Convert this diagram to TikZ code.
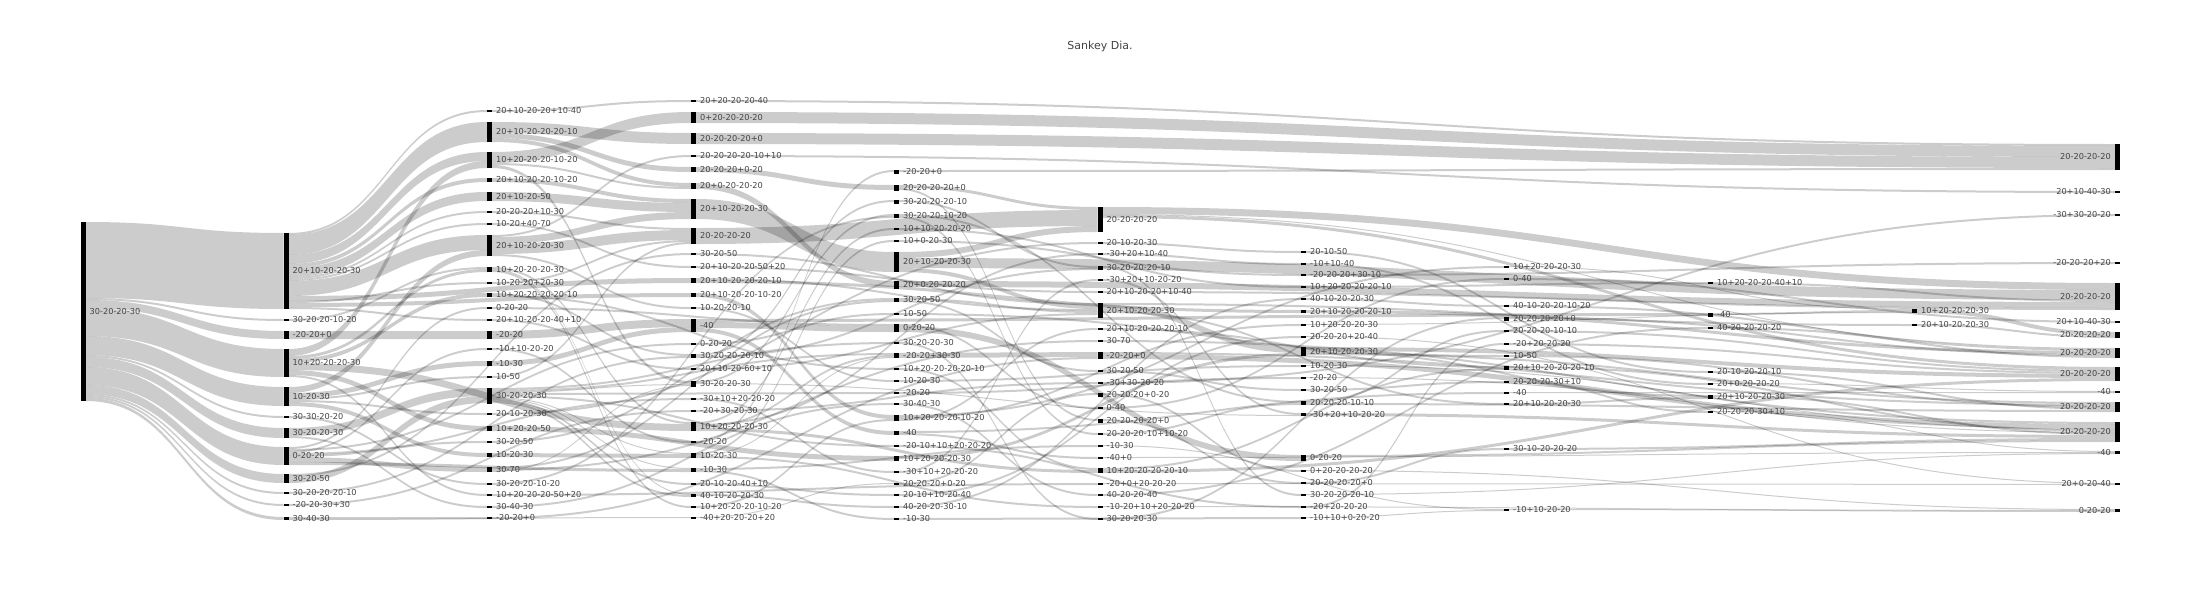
\documentclass[tikz,border=0pt]{standalone}
\usepackage{fontspec}
\newfontfamily\skf{DejaVu Sans}
\usetikzlibrary{calc}
\pgfdeclarelayer{bg}
\pgfsetlayers{bg,main}
\definecolor{lbltext}{HTML}{444444}
\tikzset{
  nd/.style={fill=black,draw=none,minimum width=5pt,inner sep=0pt,outer sep=0pt},
  lbl/.style={font=\skf\fontsize{8.2}{9}\selectfont,text=lbltext,inner sep=0pt,xshift=4pt},
  lblL/.style={font=\skf\fontsize{8.2}{9}\selectfont,text=lbltext,inner sep=0pt,xshift=-4pt},
  lkf/.style={fill=black,fill opacity=0.2,draw=none}
}
\newcommand\sknode[5]{\node[nd,minimum height=#4pt,anchor=north west,label={[lbl]east:#5}] (#1) at (#2,#3) {};}
\newcommand\sknodeL[5]{\node[nd,minimum height=#4pt,anchor=north west,label={[lblL]west:#5}] (#1) at (#2,#3) {};}
\newcommand\sklink[3]{%
 \ifcsname o@#1\endcsname\else\expandafter\xdef\csname o@#1\endcsname{0}\fi
 \ifcsname i@#2\endcsname\else\expandafter\xdef\csname i@#2\endcsname{0}\fi
 \edef\lkso{\csname o@#1\endcsname}%
 \edef\lkti{\csname i@#2\endcsname}%
 \path (#1.north east) ++(0,\lkso) coordinate (lkp) ++(0,#3) coordinate (lkpb)
       (#2.north west) ++(0,\lkti) coordinate (lkq) ++(0,#3) coordinate (lkqb)
       ($(lkp)!0.5!(lkq)$) coordinate (lkm);
 \fill[lkf] (lkp) .. controls (lkm |- lkp) and (lkm |- lkq) .. (lkq) -- (lkqb) .. controls (lkm |- lkqb) and (lkm |- lkpb) .. (lkpb) -- cycle;
 \pgfmathsetmacro\lktmp{\lkso+#3}\expandafter\xdef\csname o@#1\endcsname{\lktmp}%
 \pgfmathsetmacro\lktmp{\lkti+#3}\expandafter\xdef\csname i@#2\endcsname{\lktmp}%
}
\begin{document}
\begin{tikzpicture}[x=1pt,y=-1pt]
\useasboundingbox (0,0) rectangle (2200,600);
\node[font=\skf\fontsize{11}{13}\selectfont,text=lbltext] (title) at (1100,46) {Sankey Dia.};
% column 0
\sknode{A0}{80.5}{222}{179}{30-20-20-30}
% column 1
\sknode{B1}{283.5}{233}{76}{20+10-20-20-30}
\sknode{B2}{283.5}{319}{2}{30-20-20-10-20}
\sknode{B3}{283.5}{331}{8}{-20-20+0}
\sknode{B4}{283.5}{349}{28}{10+20-20-20-30}
\sknode{B5}{283.5}{387}{19}{10-20-30}
\sknode{B6}{283.5}{416}{2}{30-30-20-20}
\sknode{B7}{283.5}{428}{10}{30-20-20-30}
\sknode{B8}{283.5}{447}{18}{0-20-20}
\sknode{B9}{283.5}{474}{9}{30-20-50}
\sknode{B10}{283.5}{492}{2}{30-20-20-20-10}
\sknode{B11}{283.5}{504}{2}{-20-20-30+30}
\sknode{B12}{283.5}{517}{3}{30-40-30}
% column 2
\sknode{C1}{487}{110}{2}{20+10-20-20+10-40}
\sknode{C2}{487}{122}{20}{20+10-20-20-20-10}
\sknode{C3}{487}{152}{16}{10+20-20-20-10-20}
\sknode{C4}{487}{178}{4}{20+10-20-20-10-20}
\sknode{C5}{487}{192}{9}{20+10-20-50}
\sknode{C6}{487}{211}{2}{20-20-20+10-30}
\sknode{C7}{487}{223}{2}{10-20+40-70}
\sknode{C8}{487}{235}{21}{20+10-20-20-30}
\sknode{C9}{487}{267}{5}{10+20-20-20-30}
\sknode{C10}{487}{282}{2}{10-20-20+20-30}
\sknode{C11}{487}{293}{4}{10+20-20-20-20-10}
\sknode{C12}{487}{307}{2}{0-20-20}
\sknode{C13}{487}{319}{2}{20+10-20-20-40+10}
\sknode{C14}{487}{331}{8}{-20-20}
\sknode{C15}{487}{348}{2}{-10+10-20-20}
\sknode{C16}{487}{361}{5}{-10-30}
\sknode{C17}{487}{376}{2}{10-50}
\sknode{C18}{487}{388}{16}{30-20-20-30}
\sknode{C19}{487}{413}{2}{20-10-20-30}
\sknode{C20}{487}{426}{5}{10+20-20-50}
\sknode{C21}{487}{441}{2}{30-20-50}
\sknode{C22}{487}{453}{4}{10-20-30}
\sknode{C23}{487}{467}{5}{30-70}
\sknode{C24}{487}{483}{2}{30-20-20-10-20}
\sknode{C25}{487}{494}{2}{10+20-20-20-50+20}
\sknode{C26}{487}{506}{2}{30-40-30}
\sknode{C27}{487}{517}{2}{-20-20+0}
% column 3
\sknode{D1}{691}{100}{2}{20+20-20-20-40}
\sknode{D2}{691}{112}{11}{0+20-20-20-20}
\sknode{D3}{691}{133}{11}{20-20-20-20+0}
\sknode{D4}{691}{155}{2}{20-20-20-20-10+10}
\sknode{D5}{691}{167}{5}{20-20-20+0-20}
\sknode{D6}{691}{183}{6}{20+0-20-20-20}
\sknode{D7}{691}{199}{20}{20+10-20-20-30}
\sknode{D8}{691}{228}{16}{20-20-20-20}
\sknode{D9}{691}{253}{2}{30-20-50}
\sknode{D10}{691}{266}{2}{20+10-20-20-50+20}
\sknode{D11}{691}{278}{5}{20+10-20-20-20-10}
\sknode{D12}{691}{293}{4}{20+10-20-20-10-20}
\sknode{D13}{691}{307}{2}{10-20-20-10}
\sknode{D14}{691}{319}{13}{-40}
\sknode{D15}{691}{343}{2}{0-20-20}
\sknode{D16}{691}{354}{4}{30-20-20-20-10}
\sknode{D17}{691}{368}{2}{20+10-20-60+10}
\sknode{D18}{691}{381}{6}{30-20-20-30}
\sknode{D19}{691}{398}{2}{-30+10+20-20-20}
\sknode{D20}{691}{410}{2}{-20+30-20-30}
\sknode{D21}{691}{422}{9}{10+20-20-20-30}
\sknode{D22}{691}{441}{2}{-20-20}
\sknode{D23}{691}{453}{5}{10-20-30}
\sknode{D24}{691}{468}{4}{-10-30}
\sknode{D25}{691}{483}{2}{20-10-20-40+10}
\sknode{D26}{691}{494}{3}{40-10-20-20-30}
\sknode{D27}{691}{506}{2}{10+20-20-20-10-20}
\sknode{D28}{691}{517}{2}{-40+20-20-20+20}
% column 4
\sknode{E1}{894}{170}{4}{-20-20+0}
\sknode{E2}{894}{185}{6}{20-20-20-20+0}
\sknode{E3}{894}{200}{4}{30-20-20-20-10}
\sknode{E4}{894}{214}{4}{30-20-20-10-20}
\sknode{E5}{894}{228}{2}{10+10-20-20-20}
\sknode{E6}{894}{240}{2}{10+0-20-30}
\sknode{E7}{894}{252}{20}{20+10-20-20-30}
\sknode{E8}{894}{281}{8}{20+0-20-20-20}
\sknode{E9}{894}{298}{4}{30-20-50}
\sknode{E10}{894}{313}{2}{10-50}
\sknode{E11}{894}{324}{8}{0-20-20}
\sknode{E12}{894}{342}{2}{30-20-20-30}
\sknode{E13}{894}{353}{5}{-20-20+30-30}
\sknode{E14}{894}{368}{2}{10+20-20-20-20-10}
\sknode{E15}{894}{380}{2}{10-20-30}
\sknode{E16}{894}{392}{2}{-20-20}
\sknode{E17}{894}{403}{2}{30-40-30}
\sknode{E18}{894}{415}{6}{10+20-20-20-10-20}
\sknode{E19}{894}{431}{4}{-40}
\sknode{E20}{894}{445}{2}{-20-10+10+20-20-20}
\sknode{E21}{894}{456}{5}{10+20-20-20-30}
\sknode{E22}{894}{471}{2}{-30+10+20-20-20}
\sknode{E23}{894}{483}{2}{20-20-20+0-20}
\sknode{E24}{894}{494}{2}{20-10+10-20-40}
\sknode{E25}{894}{506}{2}{40-20-20-30-10}
\sknode{E26}{894}{518}{2}{-10-30}
% column 5
\sknode{F1}{1097.5}{207}{25}{20-20-20-20}
\sknode{F2}{1097.5}{242}{2}{20-10-20-30}
\sknode{F3}{1097.5}{253}{2}{-30+20+10-40}
\sknode{F4}{1097.5}{266}{4}{30-20-20-20-10}
\sknode{F5}{1097.5}{279}{2}{-30+20+10-20-20}
\sknode{F6}{1097.5}{291}{2}{20+10-20-20+10-40}
\sknode{F7}{1097.5}{303}{15}{20+10-20-20-30}
\sknode{F8}{1097.5}{328}{2}{20+10-20-20-20-10}
\sknode{F9}{1097.5}{340}{2}{30-70}
\sknode{F10}{1097.5}{352}{7}{-20-20+0}
\sknode{F11}{1097.5}{370}{2}{30-20-50}
\sknode{F12}{1097.5}{382}{2}{-30+30-20-20}
\sknode{F13}{1097.5}{393}{4}{20-20-20+0-20}
\sknode{F14}{1097.5}{407}{2}{0-40}
\sknode{F15}{1097.5}{419}{4}{20-20-20-20+0}
\sknode{F16}{1097.5}{433}{2}{20-20-20-10+10-20}
\sknode{F17}{1097.5}{445}{2}{-10-30}
\sknode{F18}{1097.5}{457}{2}{-40+0}
\sknode{F19}{1097.5}{468}{5}{10+20-20-20-20-10}
\sknode{F20}{1097.5}{483}{2}{-20+0+20-20-20}
\sknode{F21}{1097.5}{494}{2}{40-20-20-40}
\sknode{F22}{1097.5}{506}{2}{-10-20+10+20-20-20}
\sknode{F23}{1097.5}{518}{2}{30-20-20-30}
% column 6
\sknode{G1}{1301}{251}{2}{20-10-50}
\sknode{G2}{1301}{263}{2}{-10+10-40}
\sknode{G3}{1301}{274}{2}{-20-20-20+30-10}
\sknode{G4}{1301}{286}{2}{10+20-20-20-20-10}
\sknode{G5}{1301}{298}{2}{40-10-20-20-30}
\sknode{G6}{1301}{310}{3}{20+10-20-20-20-10}
\sknode{G7}{1301}{324}{2}{10+20-20-20-30}
\sknode{G8}{1301}{336}{2}{20-20-20+20-40}
\sknode{G9}{1301}{347}{9}{20+10-20-20-30}
\sknode{G10}{1301}{365}{2}{10-20-30}
\sknode{G11}{1301}{377}{2}{-20-20}
\sknode{G12}{1301}{389}{2}{30-20-50}
\sknode{G13}{1301}{401}{4}{20-20-20-10-10}
\sknode{G14}{1301}{413}{3}{-30+20+10-20-20}
\sknode{G15}{1301}{455}{6}{0-20-20}
\sknode{G16}{1301}{470}{2}{0+20-20-20-20}
\sknode{G17}{1301}{482}{2}{20-20-20-20+0}
\sknode{G18}{1301}{494}{2}{30-20-20-20-10}
\sknode{G19}{1301}{506}{2}{-20+20-20-20}
\sknode{G20}{1301}{517}{2}{-10+10+0-20-20}
% column 7
\sknode{H1}{1504}{266}{2}{10+20-20-20-30}
\sknode{H2}{1504}{278}{2}{0-40}
\sknode{H3}{1504}{305}{2}{40-10-20-20-10-20}
\sknode{H4}{1504}{317}{4}{20-20-20-20+0}
\sknode{H5}{1504}{330}{2}{20-20-20-10-10}
\sknode{H6}{1504}{343}{2}{-20+20-20-20}
\sknode{H7}{1504}{355}{2}{10-50}
\sknode{H8}{1504}{366}{4}{20+10-20-20-20-10}
\sknode{H9}{1504}{381}{2}{20-20-20-30+10}
\sknode{H10}{1504}{392}{2}{-40}
\sknode{H11}{1504}{403}{2}{20+10-20-20-30}
\sknode{H12}{1504}{448}{2}{30-10-20-20-20}
\sknode{H13}{1504}{509}{2}{-10+10-20-20}
% column 8
\sknode{I1}{1708}{282}{2}{10+20-20-20-40+10}
\sknode{I2}{1708}{313}{4}{-40}
\sknode{I3}{1708}{327}{2}{40-20-20-20-20}
\sknode{I4}{1708}{371}{2}{20-10-20-20-10}
\sknode{I5}{1708}{383}{2}{20+0-20-20-20}
\sknode{I6}{1708}{395}{4}{20+10-20-20-30}
\sknode{I7}{1708}{411}{2}{20-20-20-30+10}
% column 9
\sknode{J1}{1912}{309}{4}{10+20-20-20-30}
\sknode{J2}{1912}{324}{2}{20+10-20-20-30}
% column 10
\sknodeL{K1}{2115}{144}{26}{20-20-20-20}
\sknodeL{K2}{2115}{191}{2}{20+10-40-30}
\sknodeL{K3}{2115}{214}{2}{-30+30-20-20}
\sknodeL{K4}{2115}{262}{2}{-20-20-20+20}
\sknodeL{K5}{2115}{283}{27}{20-20-20-20}
\sknodeL{K6}{2115}{321}{2}{20+10-40-30}
\sknodeL{K7}{2115}{332}{6}{20-20-20-20}
\sknodeL{K8}{2115}{348}{10}{20-20-20-20}
\sknodeL{K9}{2115}{367}{14}{20-20-20-20}
\sknodeL{K10}{2115}{391}{2}{-40}
\sknodeL{K11}{2115}{402}{10}{20-20-20-20}
\sknodeL{K12}{2115}{422}{20}{20-20-20-20}
\sknodeL{K13}{2115}{451}{3}{-40}
\sknodeL{K14}{2115}{483}{2}{20+0-20-40}
\sknodeL{K15}{2115}{509}{3}{0-20-20}
\begin{pgfonlayer}{bg}
\sklink{C1}{D1}{2}
\sklink{B1}{C1}{2}
\sklink{C3}{D2}{11}
\sklink{B1}{C2}{20}
\sklink{C2}{D3}{11}
\sklink{C8}{D4}{2}
\sklink{D1}{K1}{2}
\sklink{D2}{K1}{11}
\sklink{D3}{K1}{11}
\sklink{E1}{K1}{2}
\sklink{B1}{C3}{9}
\sklink{B4}{C3}{7}
\sklink{C2}{D5}{5}
\sklink{D22}{E1}{2}
\sklink{B1}{C4}{4}
\sklink{C2}{D6}{4}
\sklink{C3}{D6}{2}
\sklink{D5}{E2}{5}
\sklink{D4}{K2}{2}
\sklink{B1}{C5}{9}
\sklink{D16}{E3}{2}
\sklink{C4}{D7}{4}
\sklink{C5}{D7}{9}
\sklink{C8}{D7}{7}
\sklink{B1}{C6}{2}
\sklink{F12}{K3}{2}
\sklink{D18}{E4}{2}
\sklink{C24}{E4}{2}
\sklink{E2}{F1}{3}
\sklink{D8}{F1}{16}
\sklink{E7}{F1}{6}
\sklink{B1}{C7}{2}
\sklink{D21}{E5}{2}
\sklink{C6}{D8}{2}
\sklink{C8}{D8}{10}
\sklink{C10}{D8}{2}
\sklink{C17}{D8}{2}
\sklink{D23}{E6}{2}
\sklink{C19}{F2}{2}
\sklink{B1}{C8}{15}
\sklink{B5}{C8}{6}
\sklink{F2}{G1}{2}
\sklink{B9}{D9}{2}
\sklink{D21}{F3}{2}
\sklink{D7}{E7}{20}
\sklink{G3}{K4}{2}
\sklink{F3}{G2}{2}
\sklink{C7}{D10}{2}
\sklink{E18}{H1}{2}
\sklink{E3}{F4}{2}
\sklink{D16}{F4}{2}
\sklink{B2}{C9}{2}
\sklink{B4}{C9}{3}
\sklink{A0}{B1}{76}
\sklink{E6}{G3}{2}
\sklink{F14}{H2}{2}
\sklink{E22}{F5}{2}
\sklink{B1}{D11}{5}
\sklink{B1}{C10}{2}
\sklink{G4}{I1}{2}
\sklink{D6}{E8}{6}
\sklink{E5}{G4}{2}
\sklink{D10}{F6}{2}
\sklink{B4}{C11}{4}
\sklink{B1}{D12}{4}
\sklink{F1}{K5}{7}
\sklink{E7}{K5}{10}
\sklink{I1}{K5}{2}
\sklink{E8}{K5}{6}
\sklink{F6}{K5}{2}
\sklink{E25}{G5}{2}
\sklink{C21}{E9}{2}
\sklink{C23}{E9}{2}
\sklink{G5}{H3}{2}
\sklink{B8}{C12}{2}
\sklink{C8}{D13}{2}
\sklink{D9}{F7}{2}
\sklink{E7}{F7}{4}
\sklink{D11}{F7}{2}
\sklink{E9}{F7}{2}
\sklink{D17}{F7}{2}
\sklink{H1}{J1}{1}
\sklink{I2}{J1}{2}
\sklink{G7}{J1}{1}
\sklink{D11}{G6}{3}
\sklink{D15}{E10}{2}
\sklink{D14}{I2}{3}
\sklink{F23}{H4}{2}
\sklink{A0}{B2}{2}
\sklink{B1}{C13}{2}
\sklink{H2}{K6}{2}
\sklink{E18}{G7}{2}
\sklink{F7}{J2}{2}
\sklink{C14}{D14}{8}
\sklink{C16}{D14}{5}
\sklink{C12}{E11}{2}
\sklink{D14}{E11}{6}
\sklink{F21}{I3}{2}
\sklink{E18}{F8}{2}
\sklink{G13}{H5}{2}
\sklink{A0}{B3}{8}
\sklink{B3}{C14}{8}
\sklink{J1}{K7}{4}
\sklink{J2}{K7}{2}
\sklink{E24}{G8}{2}
\sklink{C23}{F9}{2}
\sklink{C18}{E12}{2}
\sklink{B8}{D15}{2}
\sklink{G19}{H6}{2}
\sklink{B8}{C15}{2}
\sklink{F7}{G9}{6}
\sklink{E21}{G9}{3}
\sklink{F1}{K8}{1}
\sklink{H3}{K8}{2}
\sklink{G6}{K8}{3}
\sklink{H4}{K8}{2}
\sklink{I3}{K8}{2}
\sklink{C18}{E13}{2}
\sklink{D21}{E13}{2}
\sklink{D23}{E13}{1}
\sklink{E13}{F10}{5}
\sklink{C27}{F10}{2}
\sklink{C11}{D16}{2}
\sklink{B10}{D16}{2}
\sklink{E10}{H7}{2}
\sklink{A0}{B4}{28}
\sklink{B5}{C16}{5}
\sklink{E15}{G10}{2}
\sklink{F8}{H8}{2}
\sklink{F19}{H8}{2}
\sklink{C13}{D17}{2}
\sklink{C11}{E14}{2}
\sklink{E9}{F11}{2}
\sklink{G1}{I4}{2}
\sklink{F1}{K9}{3}
\sklink{H5}{K9}{2}
\sklink{H6}{K9}{2}
\sklink{G9}{K9}{4}
\sklink{F19}{K9}{3}
\sklink{B5}{C17}{2}
\sklink{E16}{G11}{2}
\sklink{D13}{E15}{2}
\sklink{G12}{H9}{2}
\sklink{D20}{F12}{2}
\sklink{C3}{D18}{3}
\sklink{C18}{D18}{1}
\sklink{C23}{D18}{1}
\sklink{G2}{I5}{2}
\sklink{F11}{G12}{2}
\sklink{I5}{K10}{1}
\sklink{H10}{K10}{1}
\sklink{C18}{E16}{2}
\sklink{E19}{H10}{2}
\sklink{E23}{F13}{2}
\sklink{B7}{C18}{8}
\sklink{B9}{C18}{7}
\sklink{A0}{B5}{19}
\sklink{G9}{I6}{2}
\sklink{H11}{I6}{2}
\sklink{B8}{D19}{2}
\sklink{E4}{G13}{2}
\sklink{F16}{G13}{2}
\sklink{C26}{E17}{2}
\sklink{F7}{H11}{2}
\sklink{G9}{K11}{2}
\sklink{F10}{K11}{2}
\sklink{H7}{K11}{2}
\sklink{I4}{K11}{2}
\sklink{G13}{K11}{2}
\sklink{E11}{F14}{2}
\sklink{B11}{D20}{2}
\sklink{H9}{I7}{2}
\sklink{B5}{C19}{2}
\sklink{F5}{G14}{2}
\sklink{D18}{G14}{1}
\sklink{A0}{B6}{2}
\sklink{D12}{E18}{4}
\sklink{D27}{E18}{2}
\sklink{E2}{F15}{2}
\sklink{C9}{D21}{2}
\sklink{B4}{D21}{7}
\sklink{B4}{C20}{5}
\sklink{F9}{K12}{2}
\sklink{F10}{K12}{5}
\sklink{G10}{K12}{1}
\sklink{H8}{K12}{2}
\sklink{G11}{K12}{1}
\sklink{I6}{K12}{2}
\sklink{G14}{K12}{3}
\sklink{H12}{K12}{2}
\sklink{G15}{K12}{2}
\sklink{A0}{B7}{10}
\sklink{D14}{E19}{4}
\sklink{E4}{F16}{2}
\sklink{B8}{C21}{2}
\sklink{C15}{D22}{2}
\sklink{C18}{E20}{2}
\sklink{D24}{F17}{2}
\sklink{G17}{H12}{2}
\sklink{I7}{K13}{1}
\sklink{F18}{K13}{1}
\sklink{G18}{K13}{1}
\sklink{B5}{C22}{4}
\sklink{C18}{D23}{1}
\sklink{C22}{D23}{4}
\sklink{A0}{B8}{18}
\sklink{E19}{F18}{2}
\sklink{E11}{G15}{6}
\sklink{C20}{E21}{5}
\sklink{B8}{C23}{5}
\sklink{C18}{D24}{1}
\sklink{B8}{D24}{3}
\sklink{E14}{F19}{2}
\sklink{D21}{F19}{3}
\sklink{F13}{G16}{2}
\sklink{D19}{E22}{2}
\sklink{A0}{B9}{9}
\sklink{F15}{G17}{2}
\sklink{B6}{C24}{2}
\sklink{C18}{D25}{2}
\sklink{D28}{E23}{1}
\sklink{C25}{F20}{2}
\sklink{G8}{K14}{1}
\sklink{F20}{K14}{1}
\sklink{A0}{B10}{2}
\sklink{B4}{C25}{2}
\sklink{C9}{D26}{1}
\sklink{C18}{D26}{2}
\sklink{D25}{E24}{2}
\sklink{E17}{F21}{2}
\sklink{F4}{G18}{2}
\sklink{A0}{B11}{2}
\sklink{B7}{C26}{2}
\sklink{C9}{D27}{2}
\sklink{D26}{E25}{2}
\sklink{D23}{F22}{2}
\sklink{E20}{G19}{2}
\sklink{F17}{H13}{1}
\sklink{G20}{H13}{1}
\sklink{G16}{K15}{1}
\sklink{F22}{K15}{1}
\sklink{H13}{K15}{1}
\sklink{B12}{C27}{2}
\sklink{B12}{D28}{1}
\sklink{E26}{G20}{2}
\sklink{A0}{B12}{3}
\sklink{D24}{E26}{2}
\sklink{E12}{F23}{2}
\end{pgfonlayer}
\end{tikzpicture}
\end{document}
